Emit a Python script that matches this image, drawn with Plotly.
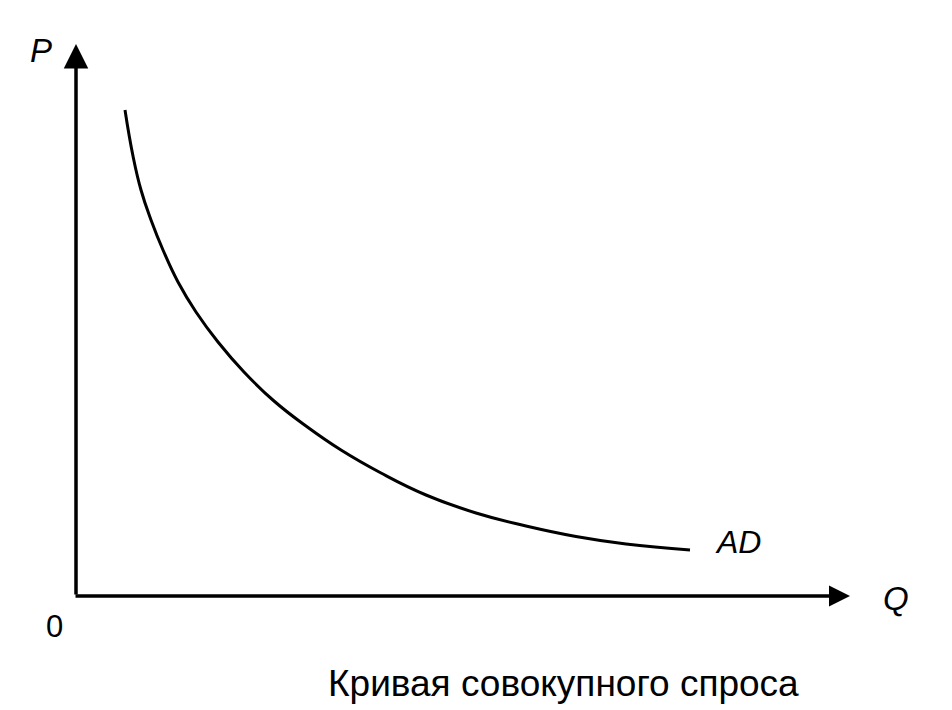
import plotly.graph_objects as go

# Aggregate demand curve (Q, P)
q_vals = [0.49, 0.57, 0.65, 0.75, 0.87, 1.02, 1.20, 1.42, 1.68, 1.98, 2.30, 2.65,
          3.05, 3.50, 4.00, 4.50, 5.00, 5.50, 6.14]
p_vals = [4.86, 4.40, 4.06, 3.76, 3.46, 3.14, 2.84, 2.54, 2.24, 1.95, 1.70, 1.46,
          1.23, 1.01, 0.83, 0.70, 0.595, 0.52, 0.46]

curve_label = "AD"
x_axis_label = "Q"
y_axis_label = "P"
origin_label = "0"
caption = "Кривая совокупного спроса"

FONT = "Liberation Sans, Arial, sans-serif"

W, H = 952, 710
L, T = 68, 38          # page has an 8px body margin
PW, PH = 800, 550      # plot area: 0..8 by 0..5.5
R, B = W - L - PW, H - T - PH
X0, Y0 = L + 8, T + 8 + PH  # page pixel of the origin


def paper(px, py):
    return (px - X0) / PW, (Y0 - py) / PH


fig = go.Figure()
fig.add_trace(go.Scatter(
    x=q_vals, y=p_vals, mode="lines",
    line=dict(color="black", width=3, shape="spline", smoothing=1.3),
    hoverinfo="skip", showlegend=False,
))

annotations = [
    dict(x=0, y=5.52, ax=0, ay=0, xref="x", yref="y", axref="x", ayref="y",
         showarrow=True, arrowhead=2, arrowsize=1.4, arrowwidth=3.5,
         arrowcolor="black", text=""),
    dict(x=7.74, y=0, ax=-0.02, ay=0, xref="x", yref="y", axref="x", ayref="y",
         showarrow=True, arrowhead=2, arrowsize=1.2, arrowwidth=3.5,
         arrowcolor="black", text=""),
]


def label(text, px, py, size):
    x, y = paper(px, py)
    annotations.append(dict(
        x=x, y=y, xref="paper", yref="paper", text=text, showarrow=False,
        xanchor="center", yanchor="middle",
        font=dict(family=FONT, size=size, color="black")))


label(f"<i>{y_axis_label}</i>", 41, 50, 33)
label(f"<i>{x_axis_label}</i>", 896, 598, 33)
label(origin_label, 54, 626, 31)
label(f"<i>{curve_label}</i>", 738, 542, 32)
label(caption, 563, 683, 37)

fig.update_layout(
    width=W, height=H,
    margin=dict(l=L, r=R, t=T, b=B, pad=0),
    paper_bgcolor="white", plot_bgcolor="white",
    xaxis=dict(range=[0, 8], visible=False, fixedrange=True),
    yaxis=dict(range=[0, 5.5], visible=False, fixedrange=True),
    annotations=annotations,
    showlegend=False,
)

fig.write_html("out.html")
